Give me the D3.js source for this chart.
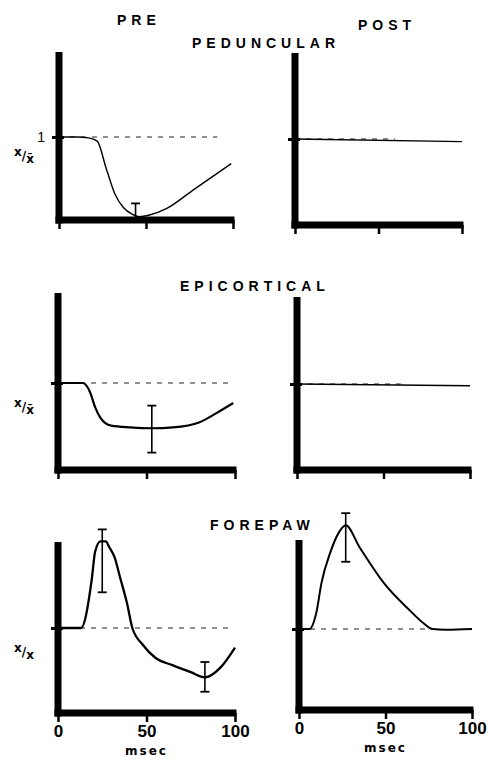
<!DOCTYPE html>
<html><head><meta charset="utf-8">
<script src="https://cdn.jsdelivr.net/npm/d3@7"></script>
<style>
html,body{margin:0;padding:0;background:#fff;}
text{font-family:"Liberation Sans",Arial,sans-serif;fill:#000;}
</style></head>
<body><svg id="chart" width="488" height="760"></svg>
<script>
// ---- data ----
const timeTicks = [0, 50, 100];
const tickLabels = ["0", "50", "100"];
const columnTitles = ["PRE", "POST"];
const rowTitles = ["PEDUNCULAR", "EPICORTICAL", "FOREPAW"];
const yLabelNum = "1";

const pedPreT = [0, 10, 17, 22, 27, 32, 37, 42, 46, 52, 62, 77, 99];
const pedPreV = [1.0, 1.0, 0.99, 0.95, 0.63, 0.32, 0.15, 0.07, 0.04, 0.06, 0.14, 0.36, 0.68];
const pedPostT = [0, 100];
const pedPostV = [1.0, 0.97];

const epiPreT = [0, 14, 18, 21, 24, 30, 41, 53, 65, 80, 90, 99];
const epiPreV = [1.0, 1.0, 0.9, 0.72, 0.6, 0.51, 0.49, 0.48, 0.49, 0.55, 0.66, 0.77];
const epiPostT = [0, 100];
const epiPostV = [1.0, 0.98];

const forePreT = [0, 13, 19, 21, 24, 27, 29, 32, 35, 39, 42, 48, 55, 65, 75, 83, 92, 100];
const forePreV = [1.0, 1.0, 1.56, 1.9, 2.02, 2.02, 1.95, 1.83, 1.6, 1.29, 1.0, 0.8, 0.65, 0.56, 0.48, 0.42, 0.54, 0.77];
const forePostT = [0, 6, 10, 13, 18, 23, 27, 35, 49, 64, 72, 77, 85, 100];
const forePostV = [1.0, 1.0, 1.2, 1.57, 1.94, 2.19, 2.28, 2.01, 1.57, 1.23, 1.07, 1.0, 0.99, 1.0];

// error bars: time, low, high
const pedPreErrT = [44], pedPreErrLo = [0.02], pedPreErrHi = [0.2];
const epiPreErrT = [53], epiPreErrLo = [0.2], epiPreErrHi = [0.74];
const forePreErrT = [25, 83], forePreErrLo = [1.42, 0.25], forePreErrHi = [2.16, 0.60];
const forePostErrT = [27], forePostErrLo = [1.83], forePostErrHi = [2.43];

// ---- layout ----
const panels = [
  {t: pedPreT, v: pedPreV, eT: pedPreErrT, eL: pedPreErrLo, eH: pedPreErrHi,
   x0: 59, x1: 233, yB: 220, yBase: 137, yTop: 52, dashEnd: 91, lw: 1.4, labels: false, one: true, ylab: "bar", ylabY: 160},
  {t: pedPostT, v: pedPostV, eT: [], eL: [], eH: [],
   x0: 295, x1: 462, yB: 225, yBase: 139, yTop: 53, dashEnd: 60, lw: 1.3, labels: false},
  {t: epiPreT, v: epiPreV, eT: epiPreErrT, eL: epiPreErrLo, eH: epiPreErrHi,
   x0: 58, x1: 235, yB: 470, yBase: 383, yTop: 293, dashEnd: 97, lw: 2.2, labels: false, ylab: "bar", ylabY: 411},
  {t: epiPostT, v: epiPostV, eT: [], eL: [], eH: [],
   x0: 297, x1: 470, yB: 470, yBase: 384, yTop: 297, dashEnd: 60, lw: 1.4, labels: false},
  {t: forePreT, v: forePreV, eT: forePreErrT, eL: forePreErrLo, eH: forePreErrHi,
   x0: 58, x1: 235, yB: 713, yBase: 628, yTop: 542, dashEnd: 97, lw: 2.3, labels: true, ylab: "plain", ylabY: 656},
  {t: forePostT, v: forePostV, eT: forePostErrT, eL: forePostErrLo, eH: forePostErrHi,
   x0: 299, x1: 472, yB: 710, yBase: 629, yTop: 540, dashEnd: 77, lw: 2.0, labels: true}
];

const svg = d3.select("#chart");

panels.forEach(p => {
  const x = d3.scaleLinear().domain([0, 100]).range([p.x0, p.x1]);
  const y = d3.scaleLinear().domain([0, 1]).range([p.yB, p.yBase]);
  const g = svg.append("g");

  // dashed baseline
  g.append("line")
    .attr("x1", x(0)).attr("x2", x(p.dashEnd))
    .attr("y1", y(1)).attr("y2", y(1))
    .attr("stroke", "#222").attr("stroke-width", 1.2)
    .attr("stroke-dasharray", "5,6");

  // data curve
  const pts = p.t.map((t, i) => [t, p.v[i]]);
  g.append("path").datum(pts)
    .attr("fill", "none").attr("stroke", "#000")
    .attr("stroke-width", p.lw).attr("stroke-linejoin", "round")
    .attr("d", d3.line().x(d => x(d[0])).y(d => y(d[1])).curve(d3.curveMonotoneX));

  // error bars
  p.eT.forEach((t, i) => {
    const cx = x(t);
    g.append("line").attr("x1", cx).attr("x2", cx).attr("y1", y(p.eL[i])).attr("y2", y(p.eH[i]))
      .attr("stroke", "#000").attr("stroke-width", 1.6);
    [p.eL[i], p.eH[i]].forEach(v => {
      g.append("line").attr("x1", cx - 4.5).attr("x2", cx + 4.5).attr("y1", y(v)).attr("y2", y(v))
        .attr("stroke", "#000").attr("stroke-width", 1.8);
    });
  });

  // x axis
  const xa = d3.axisBottom(x).tickValues(timeTicks).tickSize(9).tickSizeOuter(0).tickPadding(3)
    .tickFormat((d, i) => p.labels ? tickLabels[i] : "");
  const ax = g.append("g").attr("transform", `translate(0,${p.yB})`).call(xa);
  ax.select(".domain").attr("stroke", "#000").attr("stroke-width", 7).attr("d", `M${p.x0 - 3.5},0H${p.x1 + 1.5}`);
  ax.selectAll(".tick line").attr("stroke", "#000").attr("stroke-width", 2.5);
  ax.selectAll(".tick text").attr("font-size", 17).attr("font-weight", "bold").attr("fill", "#000")
    .style("font-family", "'Liberation Sans', Arial, sans-serif");
  if (p.labels) {
    g.append("text").attr("x", x(50)).attr("y", p.yB + 42).attr("text-anchor", "middle")
      .attr("font-size", 12).attr("font-weight", "bold").attr("letter-spacing", 2)
      .style("font-family", "'DejaVu Sans', sans-serif").text("msec");
  }

  // y axis
  const ya = d3.axisLeft(y).tickValues([1]).tickSize(7).tickSizeOuter(0).tickFormat("");
  const ay = g.append("g").attr("transform", `translate(${p.x0},0)`).call(ya);
  ay.select(".domain").attr("stroke", "#000").attr("stroke-width", 7).attr("d", `M0,${p.yTop}V${p.yB + 3.5}`);
  ay.selectAll(".tick line").attr("stroke", "#000").attr("stroke-width", 3).attr("x1", 5);

  if (p.one) {
    g.append("text").attr("x", p.x0 - 14).attr("y", y(1) + 5).attr("text-anchor", "end")
      .attr("font-size", 14).text(yLabelNum);
  }
  if (p.ylab) {
    const tx = g.append("text").attr("x", 14).attr("y", p.ylabY)
      .attr("font-size", 12).attr("font-weight", "bold")
      .style("font-family", "'DejaVu Sans', sans-serif");
    tx.append("tspan").attr("dy", -4).text("x");
    tx.append("tspan").attr("dy", 4).text("/");
    tx.append("tspan").attr("dy", 3).text(p.ylab === "bar" ? "x\u0304" : "x");
  }
});

// titles
const titleStyle = s => s.attr("font-size", 14).attr("font-weight", "bold").attr("letter-spacing", 5);
titleStyle(svg.append("text").attr("x", 117).attr("y", 25).text(columnTitles[0]));
titleStyle(svg.append("text").attr("x", 358).attr("y", 30).text(columnTitles[1]));
titleStyle(svg.append("text").attr("x", 192).attr("y", 48).text(rowTitles[0]));
titleStyle(svg.append("text").attr("x", 180).attr("y", 291).text(rowTitles[1]));
titleStyle(svg.append("text").attr("x", 210).attr("y", 530).text(rowTitles[2]));
</script></body></html>
